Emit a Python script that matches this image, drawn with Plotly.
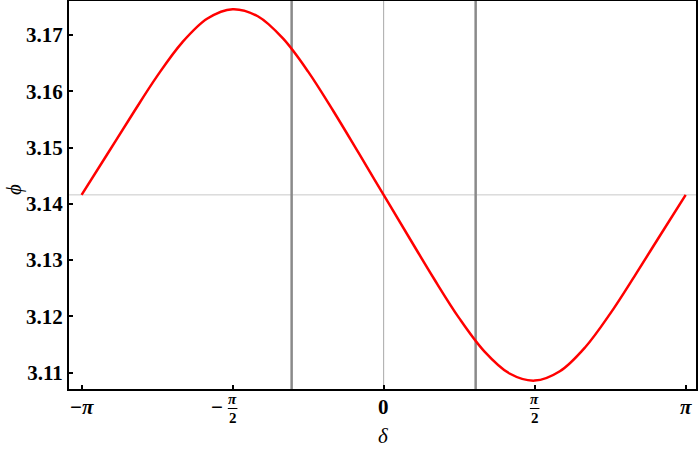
import math
import plotly.graph_objects as go

PI = math.pi

# --- data (delta in steps of pi/12) ---
delta = [-PI + k * PI / 12 for k in range(25)]
phi = [3.14159, 3.14868, 3.15579, 3.16269, 3.16870, 3.17293, 3.17459, 3.17333,
       3.16939, 3.16349, 3.15649, 3.14908, 3.14159,
       3.13411, 3.12669, 3.11969, 3.11379, 3.10985, 3.10859, 3.11025,
       3.11448, 3.12049, 3.12739, 3.13451, 3.14159]

marker_lines = [-0.957, 0.957]          # dark vertical lines
ref_x = [0.0]                           # thin vertical reference line
ref_y = [PI]                            # thin horizontal reference line

y_tick_vals = [3.11, 3.12, 3.13, 3.14, 3.15, 3.16, 3.17]
y_tick_text = ["3.11", "3.12", "3.13", "3.14", "3.15", "3.16", "3.17"]
x_tick_vals = [-PI, -PI / 2, 0, PI / 2, PI]
x_tick_text = ["−π", "−π/2", "0", "π/2", "π"]

x_title = "δ"
y_title = "ϕ"

# --- layout constants ---
W, H = 700, 450
ML, MR, MT, MB = 69, 4, 1, 61
PW, PH = W - ML - MR, H - MT - MB
XR = [-3.2726, 3.2487]
YR = [3.1071, 3.17604]
FONT = "Liberation Serif"


def py_to_paper(py):
    return (H - MB - py) / PH


fig = go.Figure()

fig.add_trace(go.Scatter(x=delta, y=phi, mode="lines",
                         line=dict(color="#ff0000", width=2.5, shape="spline",
                                   smoothing=1.0),
                         hoverinfo="skip", showlegend=False))

for xv in ref_x:
    fig.add_shape(type="line", xref="x", yref="paper", x0=xv, x1=xv, y0=0, y1=1,
                  line=dict(color="#a8a8a8", width=1), layer="below")
for yv in ref_y:
    fig.add_shape(type="line", xref="paper", yref="y", x0=0, x1=1, y0=yv, y1=yv,
                  line=dict(color="#c8c8c8", width=1), layer="below")
for xv in marker_lines:
    fig.add_shape(type="line", xref="x", yref="paper", x0=xv, x1=xv, y0=0, y1=1,
                  line=dict(color="#8a8a8a", width=2.5), layer="below")


def label_html(s):
    if s == "π" or s.endswith("π"):
        return "<b>%s<i>π</i></b>" % s[:-1]
    return "<b>%s</b>" % s


# x tick labels as annotations (stacked fractions)
for xv, lab in zip(x_tick_vals, x_tick_text):
    if "/" in lab:
        sign = lab[0] if lab[0] == "−" else ""
        num, den = lab.lstrip("−").split("/")
        fig.add_annotation(x=xv, xref="x", y=py_to_paper(399.5), yref="paper",
                           text=label_html(num), showarrow=False,
                           font=dict(family=FONT, size=15, color="black"),
                           xanchor="center", yanchor="middle")
        fig.add_annotation(x=xv, xref="x", y=py_to_paper(417.5), yref="paper",
                           text=label_html(den), showarrow=False,
                           font=dict(family=FONT, size=15, color="black"),
                           xanchor="center", yanchor="middle")
        fig.add_shape(type="line", xref="x", yref="paper",
                      x0=xv - 0.05, x1=xv + 0.05,
                      y0=py_to_paper(408.5), y1=py_to_paper(408.5),
                      line=dict(color="black", width=1))
        if sign:
            fig.add_annotation(x=xv - 0.165, xref="x", y=py_to_paper(407), yref="paper",
                               text="<b>%s</b>" % sign, showarrow=False,
                               font=dict(family=FONT, size=21, color="black"),
                               xanchor="center", yanchor="middle")
    else:
        fig.add_annotation(x=xv, xref="x", y=py_to_paper(406.5), yref="paper",
                           text=label_html(lab), showarrow=False,
                           font=dict(family=FONT, size=21, color="black"),
                           xanchor="center", yanchor="middle")

fig.add_annotation(x=0, xref="x", y=py_to_paper(436), yref="paper",
                   text="<i>%s</i>" % x_title, showarrow=False,
                   font=dict(family=FONT, size=21, color="black"),
                   xanchor="center", yanchor="middle")
fig.add_annotation(x=(14 - ML) / PW, xref="paper", y=py_to_paper(190), yref="paper",
                   text="<i>%s</i>" % y_title, showarrow=False, textangle=-90,
                   font=dict(family=FONT, size=21, color="black"),
                   xanchor="center", yanchor="middle")

fig.update_layout(
    width=W, height=H,
    margin=dict(l=ML, r=MR, t=MT, b=MB, autoexpand=False),
    paper_bgcolor="white", plot_bgcolor="white",
    xaxis=dict(range=XR, showgrid=False, zeroline=False,
               showline=True, mirror=True, linecolor="black", linewidth=2,
               ticks="inside", tickvals=x_tick_vals, ticklen=4, tickwidth=1.5,
               tickcolor="black", showticklabels=False),
    yaxis=dict(range=YR, showgrid=False, zeroline=False,
               showline=True, mirror=True, linecolor="black", linewidth=2,
               ticks="inside", tickvals=y_tick_vals, ticktext=y_tick_text,
               ticklen=4, tickwidth=1.5, tickcolor="black",
               tickfont=dict(family=FONT, size=21, color="black", weight="bold")),
)

fig.write_html("out.html", config={"displayModeBar": False},
               post_script="document.body.style.margin='0';document.body.style.overflow='hidden';")
